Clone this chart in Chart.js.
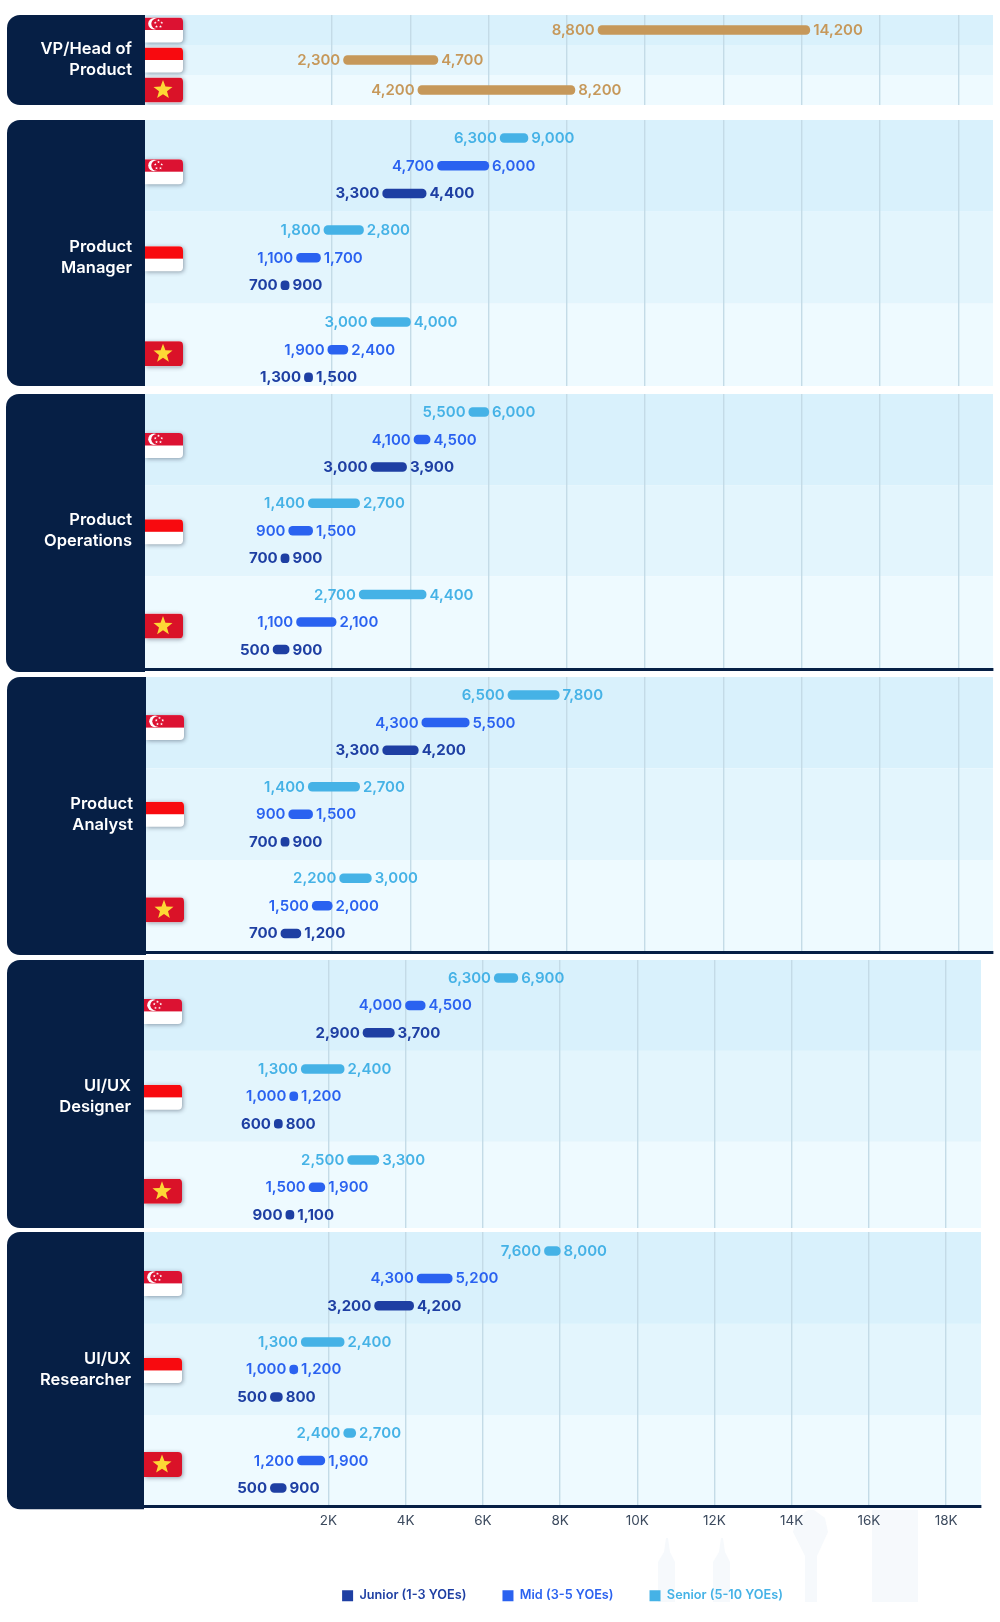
<!DOCTYPE html>
<html>
<head>
<meta charset="utf-8">
<title>Product salaries</title>
<script src="https://cdn.jsdelivr.net/npm/chart.js@4/dist/chart.umd.js"></script>
<style>
    html, body { margin: 0; padding: 0; background: #fff; width: 1000px; height: 1622px; overflow: hidden; }
    canvas { position: absolute; left: 0; display: block; }
    #skyline { position: absolute; left: 0; top: 0; }
</style>
</head>
<body>
<svg id="skyline" width="1000" height="1622" fill="#f6f9fc">
    <path d="M658 1602V1562L664 1552 666 1538H668L670 1552 675 1562V1602Z"/>
    <path d="M713 1602V1562L719 1552 721 1538H723L725 1552 730 1562V1602Z"/>
    <path d="M805 1602V1556L793 1532 797 1518 808 1510H814L825 1518 828 1532 817 1556V1602Z"/>
    <path d="M872 1510H918V1602H872Z"/>
</svg>
<script>
// Monthly salary ranges, [low, high] per country: Singapore, Indonesia, Vietnam
const vpHead = [[8800, 14200], [2300, 4700], [4200, 8200]];

// The Singapore bar stops near 7,000 in the source although it is labelled 9,000
const pmSenior = [[6300, 7000], [1800, 2800], [3000, 4000]];
const pmSeniorHighLabels = [9000, 2800, 4000];
const pmMid = [[4700, 6000], [1100, 1700], [1900, 2400]];
const pmJunior = [[3300, 4400], [700, 900], [1300, 1500]];

const opsSenior = [[5500, 6000], [1400, 2700], [2700, 4400]];
const opsMid = [[4100, 4500], [900, 1500], [1100, 2100]];
const opsJunior = [[3000, 3900], [700, 900], [500, 900]];

const analystSenior = [[6500, 7800], [1400, 2700], [2200, 3000]];
const analystMid = [[4300, 5500], [900, 1500], [1500, 2000]];
const analystJunior = [[3300, 4200], [700, 900], [700, 1200]];

const designerSenior = [[6300, 6900], [1300, 2400], [2500, 3300]];
const designerMid = [[4000, 4500], [1000, 1200], [1500, 1900]];
const designerJunior = [[2900, 3700], [600, 800], [900, 1100]];

const researcherSenior = [[7600, 8000], [1300, 2400], [2400, 2700]];
const researcherMid = [[4300, 5200], [1000, 1200], [1200, 1900]];
const researcherJunior = [[3200, 4200], [500, 800], [500, 900]];

const tickValues = [2000, 4000, 6000, 8000, 10000, 12000, 14000, 16000, 18000];
const legendNames = ['Junior (1-3 YOEs)', 'Mid (3-5 YOEs)', 'Senior (5-10 YOEs)'];
const flags = ['sg', 'id', 'vn'];

const COLORS = { junior: '#1e3fa3', mid: '#2a62f0', senior: '#45b2e6', head: '#c6985a' };
const NAVY = '#061f45';
const BANDS = ['#d9f1fc', '#e3f5fd', '#eefaff'];
const FONT = 'Inter, "Liberation Sans", sans-serif';

// top/bottom are page pixels of the plot area, first = offset of the first row, rowH = row spacing
const panels = [
    { lines: ['VP/Head of', 'Product'], top: 15, bottom: 105, first: 15, rowH: 30, step: 1, tiers: 1, left: 145, right: 993, navLeft: 7, zero: 253.7, perK: 39.15, flagShift: [0, 0, 0],
      series: [{ name: 'Head', color: COLORS.head, tier: 0, ranges: vpHead, weight: 600 }] },
    { lines: ['Product', 'Manager'], top: 120, bottom: 386, first: 18, rowH: 27.7, left: 145, right: 993, navLeft: 7, zero: 253.7, perK: 39.15, flagShift: [6, 1, 4],
      ranges: [pmJunior, pmMid, pmSenior], seniorHighLabels: pmSeniorHighLabels },
    { lines: ['Product', 'Operations'], top: 394, bottom: 669, first: 18, rowH: 27.5, left: 145, right: 993, navLeft: 6, zero: 253.7, perK: 39.15, flagShift: [6, 1, 4], line: true,
      ranges: [opsJunior, opsMid, opsSenior] },
    { lines: ['Product', 'Analyst'], top: 677, bottom: 952, first: 18, rowH: 27.6, left: 146, right: 993, navLeft: 7, zero: 253.7, perK: 39.15, flagShift: [5, 0, 4], line: true,
      ranges: [analystJunior, analystMid, analystSenior] },
    { lines: ['UI/UX', 'Designer'], top: 960, bottom: 1228, first: 18, rowH: 27.4, left: 144, right: 981, navLeft: 7, zero: 251.3, perK: 38.6, flagShift: [6, 1, 4],
      ranges: [designerJunior, designerMid, designerSenior] },
    { lines: ['UI/UX', 'Researcher'], top: 1232, bottom: 1507, first: 19, rowH: 27.5, left: 144, right: 981, navLeft: 7, zero: 251.3, perK: 38.6, flagShift: [5, 1, 4], line: true, axis: true,
      ranges: [researcherJunior, researcherMid, researcherSenior] }
];

function flagPath(ctx, x, y, w, h, r) {
    ctx.beginPath();
    ctx.roundRect(x, y, w, h, [0, r, r, 0]);
}

function star(ctx, cx, cy, r) {
    ctx.beginPath();
    for (let i = 0; i < 10; i++) {
        const a = -Math.PI / 2 + i * Math.PI / 5;
        const d = i % 2 ? r * 0.42 : r;
        ctx.lineTo(cx + Math.cos(a) * d, cy + Math.sin(a) * d);
    }
    ctx.closePath();
    ctx.fill();
}

function drawFlag(ctx, kind, x, cy) {
    const w = 38, h = 25, y = cy - h / 2;
    ctx.save();
    ctx.shadowColor = 'rgba(40,50,70,0.45)';
    ctx.shadowBlur = 4;
    ctx.shadowOffsetX = 1;
    ctx.shadowOffsetY = 1;
    ctx.fillStyle = '#fff';
    flagPath(ctx, x, y, w, h, 4);
    ctx.fill();
    ctx.restore();

    ctx.save();
    flagPath(ctx, x, y, w, h, 4);
    ctx.clip();
    if (kind === 'vn') {
        ctx.fillStyle = '#da1228';
        ctx.fillRect(x, y, w, h);
        ctx.fillStyle = '#fdd835';
        star(ctx, x + 18, cy, 10);
    } else if (kind === 'id') {
        ctx.fillStyle = '#f80a0f';
        ctx.fillRect(x, y, w, h / 2);
    } else {
        ctx.fillStyle = '#dc1232';
        ctx.fillRect(x, y, w, h / 2);
        const my = y + h / 4;
        ctx.fillStyle = '#fff';
        ctx.beginPath();
        ctx.arc(x + 9, my, 5.8, 0, Math.PI * 2);
        ctx.fill();
        ctx.fillStyle = '#dc1232';
        ctx.beginPath();
        ctx.arc(x + 11.5, my, 5.2, 0, Math.PI * 2);
        ctx.fill();
        ctx.fillStyle = '#fff';
        for (let i = 0; i < 5; i++) {
            const a = -Math.PI / 2 + i * Math.PI * 2 / 5;
            star(ctx, x + 13.5 + Math.cos(a) * 3.4, my + Math.sin(a) * 3.4, 1.5);
        }
    }
    ctx.restore();
}

function rowValue(p, country, tier) {
    return country * p.step + tier;
}

// Bands, nav block, flags and the low/high labels
const panelPlugin = {
    id: 'panelPlugin',
    beforeDraw(chart, args, opts) {
        const p = opts.panel;
        const { ctx, chartArea: area, scales: { y } } = chart;
        let from = area.top;
        BANDS.forEach((color, k) => {
            const edge = k < 2 ? y.getPixelForValue(k * p.step + (p.tiers - 1) + (p.step - (p.tiers - 1)) / 2) : area.bottom;
            ctx.fillStyle = color;
            ctx.fillRect(area.left, from, area.right - area.left, edge - from);
            from = edge;
        });
    },
    afterDatasetsDraw(chart, args, opts) {
        const p = opts.panel;
        const { ctx, chartArea: area, scales: { y } } = chart;

        ctx.fillStyle = NAVY;
        ctx.beginPath();
        ctx.roundRect(p.navLeft, area.top, area.left - p.navLeft, area.bottom - area.top + (p.line ? 3 : 0), [13, 0, 0, 13]);
        ctx.fill();

        flags.forEach((kind, c) => {
            const cy = y.getPixelForValue(rowValue(p, c, (p.tiers - 1) / 2)) + p.flagShift[c];
            drawFlag(ctx, kind, area.left, cy);
        });

        const mid = y.getPixelForValue(rowValue(p, 1, (p.tiers - 1) / 2));
        ctx.fillStyle = '#fff';
        ctx.font = `600 16.5px ${FONT}`;
        ctx.textAlign = 'right';
        ctx.textBaseline = 'middle';
        ctx.fillText(p.lines[0], area.left - 13, mid - 10.5);
        ctx.fillText(p.lines[1], area.left - 13, mid + 10.5);

        chart.data.datasets.forEach((ds, d) => {
            ctx.fillStyle = ds.backgroundColor;
            ctx.font = `${ds.labelWeight} 15px ${FONT}`;
            chart.getDatasetMeta(d).data.forEach((bar, i) => {
                const [low, high] = ds.data[i].x;
                const shownHigh = ds.highLabels ? ds.highLabels[i] : high;
                ctx.textAlign = 'right';
                ctx.fillText(low.toLocaleString('en-US'), bar.base - 3.5, bar.y + 0.5);
                ctx.textAlign = 'left';
                ctx.fillText(shownHigh.toLocaleString('en-US'), bar.x + 3.5, bar.y + 0.5);
            });
        });
    }
};

function buildPanel(p) {
    const lastPad = p.line ? 3 : 0;
    const axisHeight = 47;
    const legendPadding = 36;
    const fullBottom = p.axis ? 1612 : p.bottom + lastPad;

    p.step = p.step || 3.32;
    p.tiers = p.tiers || 3;
    const series = p.series || [
        { name: legendNames[0], color: COLORS.junior, tier: 2, ranges: p.ranges[0], weight: 700 },
        { name: legendNames[1], color: COLORS.mid, tier: 1, ranges: p.ranges[1], weight: 600 },
        { name: legendNames[2], color: COLORS.senior, tier: 0, ranges: p.ranges[2], weight: 600, highLabels: p.seniorHighLabels }
    ];

    const canvas = document.createElement('canvas');
    canvas.width = 1000;
    canvas.height = fullBottom - p.top;
    canvas.style.top = p.top + 'px';
    document.body.appendChild(canvas);

    const plotH = p.bottom - p.top;
    new Chart(canvas, {
        type: 'bar',
        data: {
            datasets: series.map(s => ({
                label: s.name,
                backgroundColor: s.color,
                labelWeight: s.weight,
                highLabels: s.highLabels,
                data: s.ranges.map((range, c) => ({ x: range, y: rowValue(p, c, s.tier) }))
            }))
        },
        options: {
            indexAxis: 'y',
            responsive: false,
            animation: false,
            events: [],
            layout: { padding: { left: p.left, right: 1000 - p.right, top: 0, bottom: p.axis ? 0 : lastPad } },
            datasets: { bar: { grouped: false, barThickness: 8.5, borderRadius: 4.25, borderSkipped: false, inflateAmount: 0.5 } },
            scales: {
                y: {
                    type: 'linear',
                    display: false,
                    reverse: true,
                    offset: false,
                    grid: { offset: false },
                    min: -p.first / p.rowH,
                    max: (plotH - p.first) / p.rowH
                },
                x: {
                    type: 'linear',
                    min: (p.left - p.zero) / p.perK * 1000,
                    max: (p.right - p.zero) / p.perK * 1000,
                    afterBuildTicks: axis => { axis.ticks = tickValues.map(value => ({ value })); },
                    afterFit: axis => { if (p.axis) axis.height = axisHeight; },
                    border: { display: !!p.line, color: NAVY, width: 3 },
                    grid: { color: '#c4dbe7', lineWidth: 1.4, drawTicks: false },
                    ticks: {
                        display: !!p.axis,
                        autoSkip: false,
                        maxRotation: 0,
                        padding: 7,
                        color: '#3c4a5e',
                        font: { family: FONT, size: 13.5, weight: 400 },
                        callback: v => `${v / 1000}K`
                    }
                }
            },
            plugins: {
                panelPlugin: { panel: p },
                tooltip: { enabled: false },
                legend: {
                    display: !!p.axis,
                    position: 'bottom',
                    labels: {
                        boxWidth: 11,
                        boxHeight: 11,
                        padding: legendPadding,
                        font: { family: FONT, size: 12.7, weight: 600 },
                        generateLabels: chart => Chart.defaults.plugins.legend.labels.generateLabels(chart).map(item => ({ ...item, fontColor: item.fillStyle }))
                    }
                }
            }
        },
        plugins: [panelPlugin]
    });
}

panels.forEach(buildPanel);
</script>
</body>
</html>
